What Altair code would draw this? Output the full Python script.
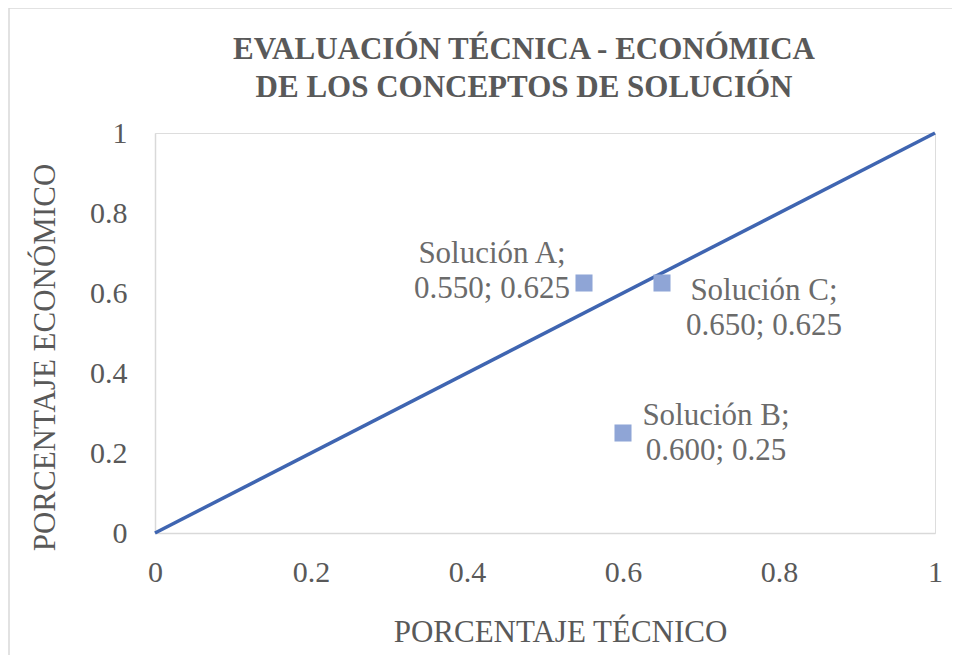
import altair as alt
import pandas as pd

# Data
names = ["Solución A", "Solución B", "Solución C"]
tecnico = [0.550, 0.600, 0.650]
economico = [0.625, 0.25, 0.625]
value_text = ["0.550; 0.625", "0.600; 0.25", "0.650; 0.625"]

line_x = [0, 1]
line_y = [0, 1]

tick_values = [0, 0.2, 0.4, 0.6, 0.8, 1]

FONT = "Liberation Serif"
GREY = "#595959"
LIGHT = "#d9d9d9"

pts = pd.DataFrame({
    "name": names,
    "tec": tecnico,
    "eco": economico,
    "vals": value_text,
})
pts["label"] = pts["name"] + ";\n" + pts["vals"]

ref = pd.DataFrame({"tec": line_x, "eco": line_y})

xscale = alt.Scale(domain=[0, 1], nice=False, zero=False)
yscale = alt.Scale(domain=[0, 1], nice=False, zero=False)

xaxis = alt.Axis(
    values=tick_values, format="~g", grid=False, ticks=False,
    domainColor=LIGHT, domainWidth=1.5,
    labelFont=FONT, labelFontSize=30, labelColor=GREY, labelPadding=24,
    labelFlush=False,
    title="PORCENTAJE TÉCNICO", titleFont=FONT, titleFontSize=31,
    titleFontWeight="normal", titleColor=GREY,
    titleX=405, titleY=99, titleAlign="center", titleBaseline="middle",
)
yaxis = alt.Axis(
    values=tick_values, format="~g", grid=False, ticks=False,
    domainColor=LIGHT, domainWidth=1.5,
    labelFont=FONT, labelFontSize=30, labelColor=GREY, labelPadding=28,
    labelBaseline="middle", labelFlush=False,
    title="PORCENTAJE ECONÓMICO", titleFont=FONT, titleFontSize=31,
    titleFontWeight="normal", titleColor=GREY,
    titleX=-110, titleY=224, titleAlign="center", titleBaseline="middle",
    titleAngle=270,
)

line = alt.Chart(ref).mark_line(color="#3F65B1", strokeWidth=3.5).encode(
    x=alt.X("tec:Q", scale=xscale, axis=xaxis),
    y=alt.Y("eco:Q", scale=yscale, axis=yaxis),
)

points = alt.Chart(pts).mark_square(size=290, color="#8FA5D6", opacity=1).encode(
    x=alt.X("tec:Q", scale=xscale),
    y=alt.Y("eco:Q", scale=yscale),
)

offsets = {"Solución A": (-92, -29), "Solución B": (93, -17), "Solución C": (102, 8)}
labels = []
for n, (dx, dy) in offsets.items():
    labels.append(
        alt.Chart(pts).transform_filter(alt.datum.name == n).mark_text(
            font=FONT, fontSize=31, color="#6b6b6b", lineBreak="\n",
            lineHeight=35, align="center", baseline="middle", dx=dx, dy=dy,
        ).encode(
            x=alt.X("tec:Q", scale=xscale),
            y=alt.Y("eco:Q", scale=yscale),
            text="label:N",
        )
    )

border_data = alt.Data(values=[{"k": 1}])
border_left = alt.Chart(border_data).mark_rule(color=LIGHT, strokeWidth=1.5).encode(
    x=alt.value(-146), y=alt.value(-125), y2=alt.value(700)
)
border_top = alt.Chart(border_data).mark_rule(color=LIGHT, strokeWidth=1.5).encode(
    x=alt.value(-146), x2=alt.value(900), y=alt.value(-125)
)

chart = alt.layer(border_left, border_top, line, points, *labels).properties(
    width=780,
    height=400,
    padding={"left": 147, "top": 125, "right": 17, "bottom": 122},
    autosize=alt.AutoSizeParams(type="none"),
    title=alt.TitleParams(
        text=["EVALUACIÓN TÉCNICA - ECONÓMICA", "DE LOS CONCEPTOS DE SOLUCIÓN"],
        font=FONT, fontSize=31, fontWeight="bold", color=GREY,
        anchor="middle", frame="group", baseline="alphabetic",
        lineHeight=38, dx=-21, dy=121, offset=0,
    ),
).configure_view(stroke=None).configure(background="white")

chart.save("out.html", embed_options={"renderer": "svg", "actions": False})
